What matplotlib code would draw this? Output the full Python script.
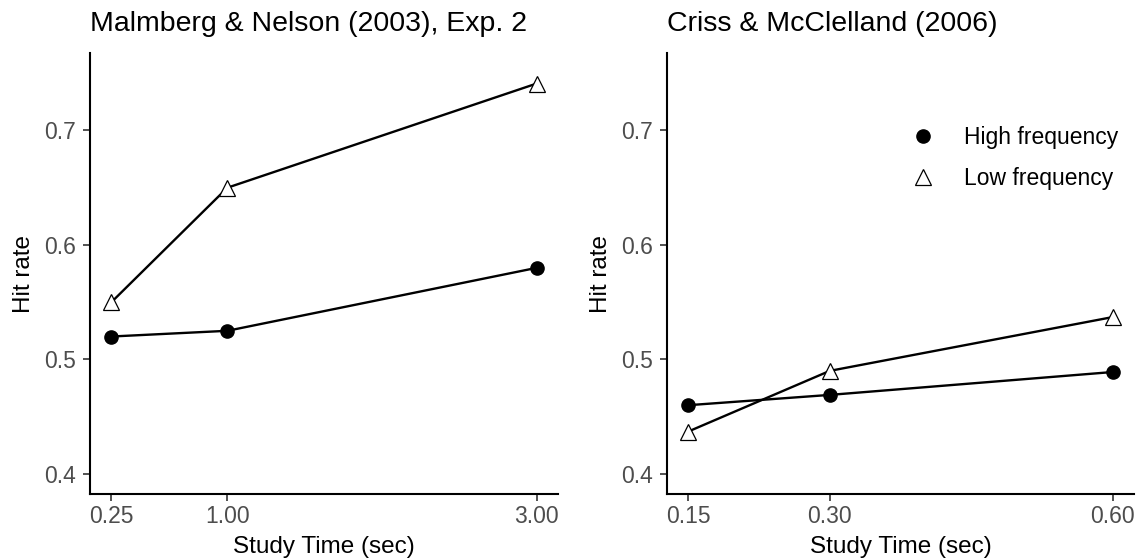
import matplotlib
matplotlib.use("Agg")
import matplotlib.pyplot as plt
from matplotlib.lines import Line2D

plt.rcParams['font.family'] = ['Liberation Sans', 'DejaVu Sans']

# Malmberg & Nelson (2003), Exp. 2
mn_time = [0.25, 1.00, 3.00]
mn_high = [0.52, 0.525, 0.58]
mn_low = [0.55, 0.65, 0.741]

# Criss & McClelland (2006)
cm_time = [0.15, 0.30, 0.60]
cm_high = [0.46, 0.469, 0.489]
cm_low = [0.437, 0.490, 0.537]

panels = [
    ("Malmberg & Nelson (2003), Exp. 2", mn_time, mn_high, mn_low, ["0.25", "1.00", "3.00"]),
    ("Criss & McClelland (2006)", cm_time, cm_high, cm_low, ["0.15", "0.30", "0.60"]),
]
y_ticks = [0.4, 0.5, 0.6, 0.7]

fig = plt.figure(figsize=(11.41, 5.6), dpi=100)
rects = [[0.079, 0.118, 0.410, 0.787], [0.5846, 0.118, 0.4093, 0.787]]

for rect, (title, t, hi, lo, xlabels) in zip(rects, panels):
    ax = fig.add_axes(rect)
    ax.plot(t, hi, color="black", lw=1.7, marker="o", ms=9.5,
            mfc="black", mec="black", zorder=3)
    ax.plot(t, lo, color="black", lw=1.7, marker="^", ms=12,
            mfc="white", mec="black", mew=0.9, zorder=3)
    span = t[-1] - t[0]
    ax.set_xlim(t[0] - 0.05 * span, t[-1] + 0.05 * span)
    ax.set_ylim(0.4 - 0.0175, 0.75 + 0.0175)
    ax.set_xticks(t)
    ax.set_xticklabels(xlabels)
    ax.set_yticks(y_ticks)
    ax.set_yticklabels([f"{v:.1f}" for v in y_ticks])
    for s in ["top", "right"]:
        ax.spines[s].set_visible(False)
    for s in ["left", "bottom"]:
        ax.spines[s].set_linewidth(1.5)
    ax.tick_params(axis="both", length=5, width=1.2, color="#333333",
                   labelsize=16.5, labelcolor="#4D4D4D")
    ax.tick_params(axis="y", pad=5)
    ax.tick_params(axis="x", pad=3)
    ax.set_xlabel("Study Time (sec)", fontsize=17.5, labelpad=6)
    ax.set_ylabel("Hit rate", fontsize=17.5, labelpad=7)
    ax.set_title(title, fontsize=20.5, loc="left", pad=16)

handles = [
    Line2D([], [], ls="none", marker="o", ms=9.5, mfc="black", mec="black"),
    Line2D([], [], ls="none", marker="^", ms=12, mfc="white", mec="black", mew=0.9),
]
ax.legend(handles, ["High frequency", "Low frequency"], loc="upper left",
          bbox_to_anchor=(0.468, 0.882), frameon=False, fontsize=16.5,
          handletextpad=1.0, labelspacing=0.8, handlelength=1.5)

fig.savefig("out.png", dpi=100)
